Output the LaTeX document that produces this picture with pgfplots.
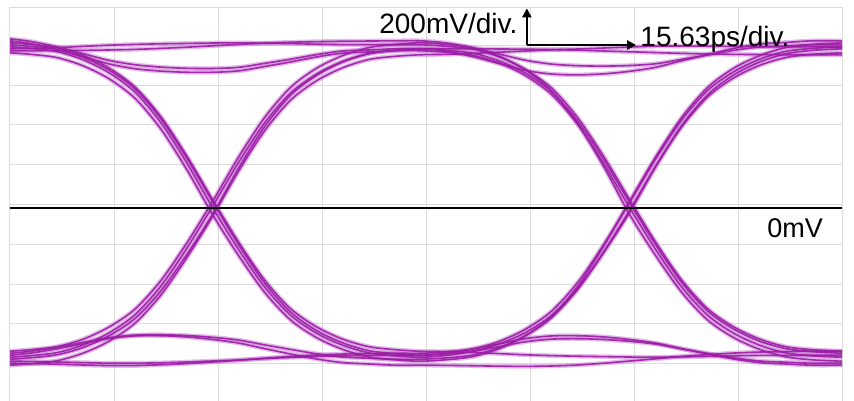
\documentclass[border=0pt]{standalone}
\usepackage{pgfplots}
\pgfplotsset{compat=1.18}
\usepackage{pgfplotstable}
\usepackage{fontspec}
\setmainfont{Liberation Sans}
\usetikzlibrary{arrows.meta}

\definecolor{trace}{RGB}{155,28,165}
\definecolor{halo}{RGB}{200,120,212}
\definecolor{gridgray}{RGB}{220,220,220}

% eye diagram traces: t in divisions (15.63 ps/div), values in mV
\pgfplotstableread{
t    w1   w2   w3   w4   w5   w6   w7   w8   w9   w10  w11  w12  w13  w14  w15  w16
0.00 820  780  -760 -720 840  800  -730 -780 810  830  -750 -790 850  790  -770 -740
0.20 812  772  -753 -712 826  802  -720 -782 802  822  -742 -783 837  790  -771 -729
0.45 796  756  -738 -697 797  806  -700 -785 786  806  -727 -768 810  791  -774 -708
0.70 757  715  -702 -660 761  812  -676 -789 745  767  -689 -730 776  792  -777 -682
0.95 694  650  -643 -599 724  818  -652 -792 680  704  -628 -670 742  794  -780 -656
1.20 599  552  -556 -509 700  822  -639 -792 583  609  -537 -580 720  797  -780 -643
1.45 449  397  -417 -365 688  825  -637 -788 429  459  -393 -438 708  802  -778 -642
1.70 251  193  -234 -176 682  827  -641 -782 227  261  -203 -250 702  808  -774 -648
1.95 30   -35  -30  35   682  829  -650 -774 0    40   10   -40  701  815  -769 -661
2.20 -186 -241 202  258  689  830  -664 -765 -210 -173 231  187  707  822  -764 -679
2.45 -378 -425 410  456  711  828  -688 -755 -398 -363 429  389  727  828  -757 -707
2.70 -524 -564 568  607  734  826  -711 -746 -540 -507 579  543  748  833  -751 -734
2.95 -617 -652 667  703  759  823  -733 -739 -630 -598 674  640  771  836  -746 -759
3.20 -678 -711 734  766  778  821  -749 -734 -690 -659 737  705  789  838  -743 -777
3.45 -717 -748 775  806  784  821  -755 -732 -728 -697 776  746  794  839  -741 -784
3.70 -732 -763 792  822  790  820  -760 -730 -743 -712 792  762  800  840  -740 -790
3.95 -740 -770 800  830  790  820  -760 -730 -750 -720 800  770  800  840  -740 -790
4.21 -733 -762 792  821  782  812  -753 -722 -740 -722 786  772  800  828  -729 -791
4.46 -718 -746 777  804  766  797  -738 -707 -720 -726 759  777  800  804  -708 -793
4.71 -682 -706 738  761  727  758  -700 -669 -696 -732 725  783  799  773  -682 -795
4.96 -625 -641 676  692  664  695  -640 -608 -672 -738 691  789  798  742  -656 -796
5.21 -538 -545 583  588  569  602  -550 -517 -659 -742 673  795  796  723  -643 -794
5.46 -402 -392 436  423  419  453  -408 -373 -657 -745 669  799  793  715  -642 -789
5.71 -222 -190 242  207  221  258  -220 -183 -661 -747 674  804  789  713  -648 -780
5.96 -20  35   25   -35  0    40   -10  30   -670 -749 687  809  785  716  -661 -769
6.21 210  258  -186 -241 -210 -173 211  248  -684 -750 707  813  781  725  -679 -758
6.46 415  456  -375 -425 -398 -363 409  443  -708 -748 740  814  777  747  -707 -746
6.71 570  607  -519 -564 -540 -507 559  592  -731 -746 771  813  774  769  -734 -737
6.96 669  703  -609 -652 -630 -598 654  685  -753 -743 802  812  772  792  -759 -729
7.21 734  766  -670 -711 -690 -659 717  748  -769 -741 824  810  771  809  -777 -724
7.46 775  806  -707 -748 -728 -697 756  787  -775 -741 832  810  770  814  -784 -722
7.71 792  822  -722 -763 -743 -712 772  802  -780 -740 840  810  770  820  -790 -720
8.00 800  830  -730 -770 -750 -720 780  810  -780 -740 840  810  770  820  -790 -720
}\eye

\begin{document}
\begin{tikzpicture}
\path[use as bounding box] (-10bp,0) rectangle (844bp,401bp);
\begin{axis}[
    scale only axis,
    width=832bp, height=393bp,
    xmin=0, xmax=8,
    ymin=-970, ymax=1005,
    xtick={1,2,3,4,5,6,7},
    ytick={-782.4,-582.4,-382.4,-182.4,17.6,217.6,417.6,617.6,817.6},
    xticklabels={}, yticklabels={},
    tick style={draw=none},
    grid=major,
    grid style={gridgray, line width=1bp},
    axis line style={gridgray, line width=1bp},
]
\pgfplotsinvokeforeach{w1,w2,w3,w4,w5,w6,w7,w8,w9,w10,w11,w12,w13,w14,w15,w16}{
    \addplot[halo, line width=4.5bp, smooth, opacity=0.5] table[x=t, y=#1] {\eye};
}
\pgfplotsinvokeforeach{w1,w2,w3,w4,w5,w6,w7,w8,w9,w10,w11,w12,w13,w14,w15,w16}{
    \addplot[trace, line width=1.6bp, smooth, opacity=0.9] table[x=t, y=#1] {\eye};
}
% 0 mV reference line
\addplot[black, line width=1.6bp] coordinates {(0,0) (8,0)};

% scale arrows and labels
\draw[black, line width=2.6bp, -{Triangle[length=9bp,width=9bp]}]
    (axis cs:4.97,819) -- (axis cs:4.97,1003);
\draw[black, line width=2.6bp, -{Triangle[length=9bp,width=9bp]}]
    (axis cs:4.97,819) -- (axis cs:6.02,819);
\node[anchor=base east, inner sep=0pt, font=\fontsize{28bp}{32bp}\selectfont]
    at (axis cs:4.88,879) {200mV/div.};
\node[anchor=base west, inner sep=0pt, font=\fontsize{28bp}{32bp}\selectfont]
    at (axis cs:6.06,809) {15.63ps/div.};
\node[anchor=base west, inner sep=0pt, font=\fontsize{27bp}{32bp}\selectfont]
    at (axis cs:7.28,-146) {0mV};
\end{axis}
\end{tikzpicture}
\end{document}
